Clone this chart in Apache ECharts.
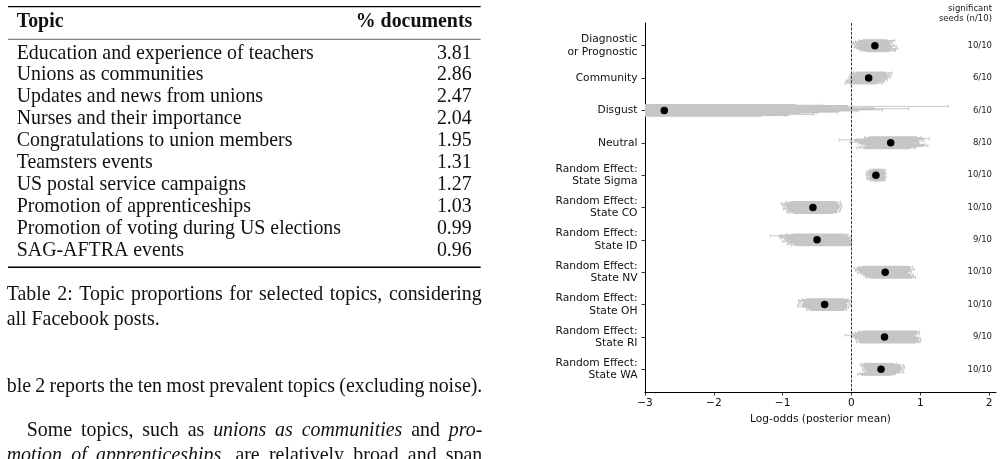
<!DOCTYPE html>
<html>
<head>
<meta charset="utf-8">
<script src="https://cdn.jsdelivr.net/npm/echarts/dist/echarts.min.js"></script>
<style>
  html, body { margin: 0; padding: 0; background: #fff; }
  #main { width: 1003px; height: 459px; }
</style>
</head>
<body>
<div id="main"></div>
<script>
// ---- table on the left ----
const topics = [
  'Education and experience of teachers',
  'Unions as communities',
  'Updates and news from unions',
  'Nurses and their importance',
  'Congratulations to union members',
  'Teamsters events',
  'US postal service campaigns',
  'Promotion of apprenticeships',
  'Promotion of voting during US elections',
  'SAG-AFTRA events'
]
const docShares = [3.81, 2.86, 2.47, 2.04, 1.95, 1.31, 1.27, 1.03, 0.99, 0.96]

// ---- forest plot ----
const categories = [
  'Diagnostic\nor Prognostic', 'Community', 'Disgust', 'Neutral',
  'Random Effect:\nState Sigma', 'Random Effect:\nState CO', 'Random Effect:\nState ID',
  'Random Effect:\nState NV', 'Random Effect:\nState OH', 'Random Effect:\nState RI',
  'Random Effect:\nState WA'
]
const significant = ['10/10', '6/10', '6/10', '8/10', '10/10', '10/10', '9/10', '10/10', '10/10', '9/10', '10/10']
const means = [0.34, 0.25, -2.72, 0.57, 0.355, -0.56, -0.50, 0.49, -0.39, 0.48, 0.43]
const xTicks = [-3, -2, -1, 0, 1, 2]

// per category, one value per seed (10 seeds)
const whiskerLo = [
  [0.11, 0.06, 0.03, 0.02, 0.07, 0.05, 0.04, 0.08, 0.12, 0.15],
  [0.03, 0.01, -0.02, 0.00, -0.03, -0.01, -0.05, -0.08, -0.06, -0.09],
  [-6.5, -7.8, -7.0, -7.4, -6.2, -6.8, -7.1, -6.4, -6.9, -6.1],
  [0.19, 0.22, -0.18, 0.05, -0.02, 0.10, 0.15, 0.20, 0.12, 0.08],
  [0.27, 0.25, 0.22, 0.24, 0.21, 0.23, 0.26, 0.22, 0.24, 0.28],
  [-0.95, -1.02, -0.98, -1.00, -0.93, -0.97, -0.99, -0.90, -0.94, -0.92],
  [-0.94, -1.18, -1.05, -1.02, -0.97, -0.95, -1.00, -0.91, -0.93, -0.88],
  [0.10, 0.04, 0.08, 0.06, 0.12, 0.09, 0.14, 0.18, 0.20, 0.22],
  [-0.72, -0.77, -0.75, -0.68, -0.77, -0.70, -0.78, -0.66, -0.62, -0.65],
  [0.10, 0.05, 0.02, -0.09, 0.00, 0.04, 0.06, 0.08, 0.11, 0.07],
  [0.13, 0.17, 0.15, 0.20, 0.18, 0.16, 0.22, 0.19, 0.12, 0.09]
]
const barLo = [
  [0.16, 0.12, 0.10, 0.08, 0.13, 0.11, 0.09, 0.14, 0.17, 0.20],
  [0.08, 0.06, 0.03, 0.05, 0.02, 0.04, 0.00, -0.02, 0.01, -0.03],
  [-5.2, -6.0, -5.5, -5.8, -4.9, -5.3, -5.6, -5.0, -5.4, -4.8],
  [0.25, 0.30, 0.05, 0.20, 0.12, 0.22, 0.28, 0.30, 0.20, 0.18],
  [0.30, 0.28, 0.26, 0.27, 0.25, 0.27, 0.29, 0.26, 0.28, 0.31],
  [-0.88, -0.92, -0.90, -0.95, -0.85, -0.91, -0.93, -0.82, -0.87, -0.84],
  [-0.85, -1.05, -0.95, -0.93, -0.88, -0.86, -0.90, -0.82, -0.84, -0.80],
  [0.16, 0.10, 0.14, 0.12, 0.17, 0.15, 0.19, 0.23, 0.25, 0.27],
  [-0.66, -0.70, -0.69, -0.62, -0.71, -0.64, -0.72, -0.60, -0.57, -0.59],
  [0.15, 0.10, 0.07, 0.02, 0.06, 0.09, 0.11, 0.13, 0.16, 0.12],
  [0.18, 0.22, 0.20, 0.25, 0.23, 0.21, 0.27, 0.24, 0.17, 0.14]
]
const barHi = [
  [0.52, 0.50, 0.55, 0.48, 0.53, 0.57, 0.51, 0.56, 0.58, 0.55],
  [0.50, 0.47, 0.51, 0.45, 0.48, 0.42, 0.44, 0.40, 0.38, 0.36],
  [-0.80, -0.05, -0.63, 0.34, 0.09, -0.18, -0.47, -1.10, -0.90, -1.30],
  [0.95, 1.05, 0.75, 0.98, 0.90, 0.92, 1.00, 1.05, 0.88, 0.85],
  [0.46, 0.45, 0.44, 0.47, 0.43, 0.45, 0.47, 0.44, 0.46, 0.45],
  [-0.22, -0.26, -0.20, -0.24, -0.18, -0.25, -0.21, -0.28, -0.23, -0.27],
  [-0.10, -0.12, -0.06, -0.04, -0.08, -0.03, -0.07, -0.02, -0.05, -0.01],
  [0.84, 0.80, 0.86, 0.78, 0.82, 0.76, 0.80, 0.85, 0.84, 0.88],
  [-0.10, -0.04, -0.12, -0.08, -0.18, -0.06, -0.13, -0.09, -0.15, -0.11],
  [0.95, 0.90, 0.93, 0.85, 0.88, 0.92, 0.96, 0.90, 0.97, 0.94],
  [0.62, 0.70, 0.66, 0.72, 0.68, 0.70, 0.65, 0.71, 0.60, 0.58]
]
const whiskerHi = [
  [0.63, 0.60, 0.58, 0.55, 0.62, 0.65, 0.59, 0.67, 0.64, 0.63],
  [0.59, 0.55, 0.58, 0.53, 0.56, 0.50, 0.52, 0.48, 0.46, 0.44],
  [-0.42, 1.41, -0.30, 0.83, 0.45, 0.10, -0.20, -0.75, -0.55, -0.95],
  [1.01, 1.13, 0.80, 1.05, 0.97, 0.98, 1.07, 1.11, 0.94, 0.92],
  [0.49, 0.48, 0.47, 0.50, 0.46, 0.48, 0.50, 0.47, 0.49, 0.48],
  [-0.16, -0.20, -0.15, -0.18, -0.14, -0.19, -0.16, -0.22, -0.17, -0.22],
  [-0.05, -0.07, -0.01, 0.00, -0.03, 0.00, -0.02, 0.00, 0.00, 0.00],
  [0.89, 0.85, 0.91, 0.83, 0.87, 0.80, 0.85, 0.90, 0.89, 0.93],
  [-0.05, 0.00, -0.07, -0.03, -0.14, -0.01, -0.08, -0.04, -0.10, -0.07],
  [0.99, 0.95, 0.98, 0.90, 0.93, 0.97, 1.00, 0.95, 1.01, 0.98],
  [0.66, 0.76, 0.71, 0.77, 0.73, 0.75, 0.70, 0.76, 0.64, 0.62]
]

// ---- look ----
const SERIF = '"Liberation Serif", "Times New Roman", serif'
const SANS = '"DejaVu Sans", sans-serif'
const BODY = 19.9
const INK = '#111'
const BAR = '#c6c6c6'
const WHISKER = '#bdbdbd'
const SEED_STEP = 1.15

// canvas 'middle' sits ~0.3375em above the baseline for Liberation Serif
const midFromBaseline = (b, size) => b - 0.3375 * size

const measureCtx = document.createElement('canvas').getContext('2d')
function textWidth(s, font) {
  measureCtx.font = font
  return measureCtx.measureText(s).width
}

function serifText(text, x, baseline, opts) {
  opts = opts || {}
  const font = (opts.italic ? 'italic ' : '') + (opts.bold ? 'bold ' : '') + BODY + 'px ' + SERIF
  return {
    type: 'text', x: x, y: midFromBaseline(baseline, BODY), silent: true,
    style: { text: text, font: font, fill: INK, align: opts.align || 'left', verticalAlign: 'middle' }
  }
}

// spread words between x0 and x1 like justified LaTeX text
function justified(tokens, x0, x1, baseline) {
  const fonts = tokens.map(t => (t[1] ? 'italic ' : '') + BODY + 'px ' + SERIF)
  const widths = tokens.map((t, i) => textWidth(t[0], fonts[i]))
  const total = widths.reduce((a, b) => a + b, 0)
  const gap = (x1 - x0 - total) / (tokens.length - 1)
  let x = x0
  return tokens.map((t, i) => {
    const el = serifText(t[0], x, baseline, { italic: t[1] })
    x += widths[i] + gap
    return el
  })
}
const words = (s, italic) => s.split(' ').map(w => [w, !!italic])

function rule(y, w, color) {
  return {
    type: 'line', silent: true,
    shape: { x1: 8, y1: y, x2: 480.7, y2: y },
    style: { stroke: color || '#000', lineWidth: w }
  }
}

const graphics = []
graphics.push(rule(6.7, 1.3))
graphics.push(serifText('Topic', 16.7, 28.3, { bold: true }))
graphics.push(serifText('% documents', 472.3, 28.3, { bold: true, align: 'right' }))
graphics.push(rule(39.3, 0.9, '#555'))
topics.forEach((t, i) => {
  const b = 60 + i * 21.9
  graphics.push(serifText(t, 16.7, b))
  graphics.push(serifText(docShares[i].toFixed(2), 471.7, b, { align: 'right' }))
})
graphics.push(rule(267.2, 1.5))

graphics.push(...justified(words('Table 2: Topic proportions for selected topics, considering'), 6.7, 481.7, 301.5))
graphics.push(serifText('all Facebook posts.', 6.7, 326))
graphics.push(...justified(words('ble 2 reports the ten most prevalent topics (excluding noise).'), 6.7, 482.3, 393.3))
graphics.push(...justified(
  words('Some topics, such as').concat(words('unions as communities', true), words('and'), words('pro-', true)),
  26.7, 482.3, 437.7))
graphics.push(...justified(
  words('motion of apprenticeships,', true).concat(words('are relatively broad and span')),
  6.7, 482.3, 462.2))

graphics.push({
  type: 'text', x: 992, y: 14, silent: true,
  style: {
    text: 'significant\nseeds (n/10)', font: '8.5px ' + SANS, fill: '#222',
    align: 'right', verticalAlign: 'middle', lineHeight: 10.2
  }
})

// one item per (category, seed)
const seedData = []
categories.forEach((c, ci) => {
  for (let s = 0; s < 10; s++) {
    seedData.push([ci, s, whiskerLo[ci][s], barLo[ci][s], barHi[ci][s], whiskerHi[ci][s]])
  }
})

function renderSeed(params, api) {
  const cs = params.coordSys
  const cat = api.value(0)
  const seed = api.value(1)
  const yc = api.coord([0, cat])[1] + (seed - 4.5) * SEED_STEP
  const px = v => api.coord([v, cat])[0]
  const clampX = x => Math.max(cs.x, Math.min(cs.x + cs.width, x))
  const xwl = px(api.value(2)), xbl = px(api.value(3))
  const xbh = px(api.value(4)), xwh = px(api.value(5))
  const children = []
  children.push({
    type: 'line', shape: { x1: clampX(xwl), y1: yc, x2: clampX(xwh), y2: yc },
    style: { stroke: WHISKER, lineWidth: 0.8 }
  })
  ;[xwl, xwh].forEach(x => {
    if (x >= cs.x && x <= cs.x + cs.width) {
      children.push({
        type: 'line', shape: { x1: x, y1: yc - 1.6, x2: x, y2: yc + 1.6 },
        style: { stroke: WHISKER, lineWidth: 0.8 }
      })
    }
  })
  const b0 = clampX(xbl), b1 = clampX(xbh)
  children.push({
    type: 'rect', shape: { x: b0, y: yc - 1.3, width: b1 - b0, height: 2.6 },
    style: { fill: BAR }
  })
  return { type: 'group', children: children }
}

const catIdx = categories.map((c, i) => i)
const chart = echarts.init(document.getElementById('main'), null, { renderer: 'canvas' })

chart.setOption({
  animation: false,
  backgroundColor: '#fff',
  textStyle: { fontFamily: SANS },
  graphic: graphics,
  grid: { left: 645, right: 7, top: 23, bottom: 67, containLabel: false },
  xAxis: {
    type: 'value', min: -3, max: 2.1,
    name: 'Log-odds (posterior mean)', nameLocation: 'middle', nameGap: 21,
    nameTextStyle: { fontSize: 10.6, color: '#111', fontFamily: SANS },
    axisLine: { show: true, onZero: false, lineStyle: { color: '#000', width: 1 } },
    axisTick: { show: true, length: 3.5, customValues: xTicks, lineStyle: { color: '#000', width: 0.8 } },
    axisLabel: {
      customValues: xTicks, fontSize: 10.6, color: '#111', margin: 6, fontFamily: SANS,
      formatter: v => String(v).replace('-', '\u2212')
    },
    splitLine: { show: false }
  },
  yAxis: [{
    type: 'value', min: -0.7, max: 10.7, inverse: true,
    axisLine: { show: true, onZero: false, lineStyle: { color: '#000', width: 1 } },
    axisTick: { show: true, length: 3.5, customValues: catIdx, lineStyle: { color: '#000', width: 0.8 } },
    axisLabel: {
      customValues: catIdx, fontSize: 10.7, lineHeight: 12.3, color: '#111', margin: 7.5,
      fontFamily: SANS, align: 'right',
      formatter: v => categories[Math.round(v)]
    },
    splitLine: { show: false }
  }, {
    type: 'value', min: -0.7, max: 10.7, inverse: true, position: 'right',
    axisLine: { show: false, onZero: false },
    axisTick: { show: false },
    axisLabel: {
      inside: true, customValues: catIdx, fontSize: 8.5, color: '#222', margin: 4,
      fontFamily: SANS,
      formatter: v => significant[Math.round(v)]
    },
    splitLine: { show: false }
  }],
  series: [{
    type: 'custom',
    clip: true,
    renderItem: renderSeed,
    encode: { x: [2, 3, 4, 5], y: 0 },
    data: seedData,
    silent: true,
    z: 2
  }, {
    type: 'scatter',
    data: means.map((m, i) => [m, i]),
    symbol: 'circle',
    symbolSize: 7.5,
    itemStyle: { color: '#000', opacity: 1 },
    silent: true,
    z: 5,
    markLine: {
      silent: true,
      symbol: 'none',
      label: { show: false },
      lineStyle: { color: '#222', width: 0.9, type: [3, 1.4] },
      data: [{ xAxis: 0 }]
    }
  }]
})
</script>
</body>
</html>
